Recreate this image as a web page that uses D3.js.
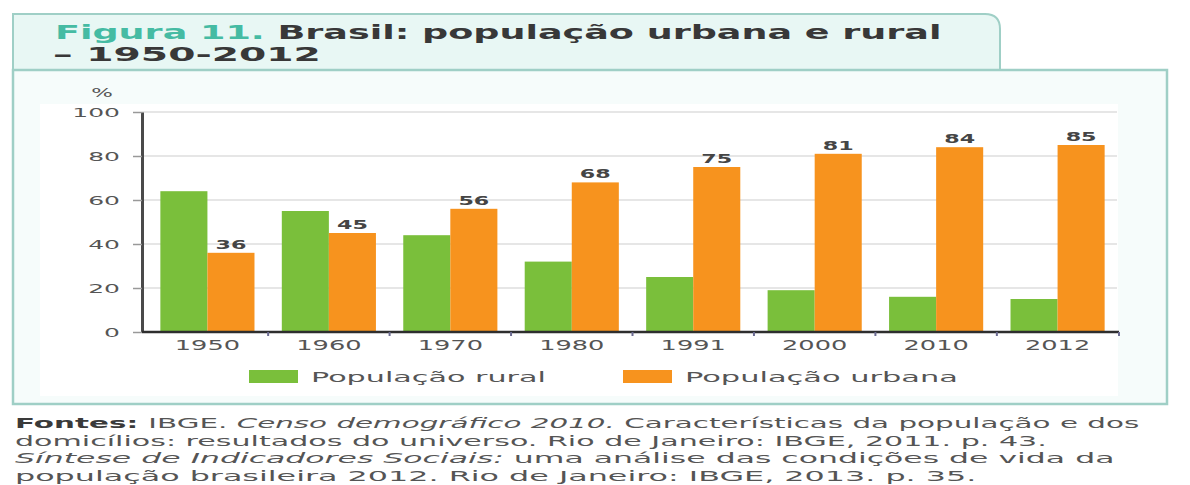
<!DOCTYPE html>
<html>
<head>
<meta charset="utf-8">
<script src="https://cdnjs.cloudflare.com/ajax/libs/d3/7.8.5/d3.min.js"></script>
<style>
  body { margin: 0; background: #fff; }
  svg { display: block; }
  text { font-family: "DejaVu Sans", sans-serif; }
</style>
</head>
<body>
<div id="chart"></div>
<script>
// data
var years = ["1950", "1960", "1970", "1980", "1991", "2000", "2010", "2012"];
var rural = [64, 55, 44, 32, 25, 19, 16, 15];
var urbana = [36, 45, 56, 68, 75, 81, 84, 85];
var yTicks = [0, 20, 40, 60, 80, 100];
var seriesNames = ["População rural", "População urbana"];
var titleLabel = "Figura 11.";
var titleText = " Brasil: população urbana e rural";
var titleLine2 = "– 1950-2012";
var sourceLines = [
  [["Fontes: ", "b"], ["IBGE. ", ""], ["Censo demográfico 2010.", "i"], [" Características da população e dos", ""]],
  [["domicílios: resultados do universo. Rio de Janeiro: IBGE, 2011. p. 43.", ""]],
  [["Síntese de Indicadores Sociais:", "i"], [" uma análise das condições de vida da", ""]],
  [["população brasileira 2012. Rio de Janeiro: IBGE, 2013. p. 35.", ""]]
];

var W = 1190, H = 485;
var colors = ["#7abf3b", "#f7931e"];
var frame = "#9fcfc6";

var svg = d3.select("#chart").append("svg")
  .attr("width", W)
  .attr("height", H);

// stretch a text horizontally so it spans the given width
function fit(sel, x, y, w) {
  var len = sel.node().getComputedTextLength();
  sel.attr("transform", "translate(" + x + "," + y + ") scale(" + (w / len) + ",1)");
}

// title tab
svg.append("path")
  .attr("d", "M13,70 L13,14 L985,14 Q1000,14 1000,29 L1000,70")
  .style("fill", "#e8f7f4")
  .style("stroke", frame)
  .style("stroke-width", 2);

// chart panel
svg.append("rect")
  .attr("x", 13).attr("y", 70)
  .attr("width", 1154).attr("height", 334)
  .style("fill", "#f6fcfb")
  .style("stroke", frame)
  .style("stroke-width", 2.5);

svg.append("rect")
  .attr("x", 40).attr("y", 104)
  .attr("width", 1078).attr("height", 292)
  .style("fill", "#fff");

var t1 = svg.append("text")
  .style("font-size", "19px")
  .style("font-weight", "bold");
t1.append("tspan").text(titleLabel).style("fill", "#45bba3");
t1.append("tspan").text(titleText).style("fill", "#383838");
fit(t1, 55, 39, 887);

var t2 = svg.append("text")
  .style("font-size", "19px")
  .style("font-weight", "bold")
  .style("fill", "#383838")
  .text(titleLine2);
fit(t2, 53, 61, 268);

// scales
var x0 = d3.scaleBand()
  .domain(years)
  .range([147, 1118])
  .paddingInner(0.225)
  .paddingOuter(0.11);

var x1 = d3.scaleBand()
  .domain([0, 1])
  .range([0, x0.bandwidth()]);

var y = d3.scaleLinear()
  .domain([0, 100])
  .range([332, 112]);

// grid
svg.selectAll(".grid")
  .data(yTicks.filter(function(d) { return d > 0; }))
  .enter()
  .append("line")
  .attr("x1", 142)
  .attr("x2", 1117)
  .attr("y1", function(d) { return y(d); })
  .attr("y2", function(d) { return y(d); })
  .style("stroke", "#dedede")
  .style("stroke-width", 1.5);

// bars
var rows = years.map(function(yr, i) { return { year: yr, values: [rural[i], urbana[i]] }; });

var groups = svg.selectAll("g.group")
  .data(rows)
  .enter()
  .append("g")
  .classed("group", true)
  .attr("transform", function(d) { return "translate(" + x0(d.year) + ",0)"; });

groups.selectAll("rect")
  .data(function(d) { return d.values; })
  .enter()
  .append("rect")
  .attr("x", function(d, i) { return x1(i); })
  .attr("y", function(d) { return y(d); })
  .attr("width", x1.bandwidth())
  .attr("height", function(d) { return y(0) - y(d); })
  .style("fill", function(d, i) { return colors[i]; });

// value labels on urban bars
groups.append("text")
  .text(function(d) { return d.values[1]; })
  .style("font-size", "12px")
  .style("font-weight", "bold")
  .style("fill", "#454545")
  .attr("text-anchor", "middle")
  .attr("transform", function(d) {
    return "translate(" + (x1(1) + x1.bandwidth() / 2) + "," + (y(d.values[1]) - 4) + ") scale(1.85,1)";
  });

// y axis
var yAxis = svg.append("g")
  .attr("transform", "translate(142,0)")
  .call(d3.axisLeft(y).tickValues(yTicks).tickSize(9).tickSizeOuter(0).tickPadding(13));

yAxis.select(".domain")
  .style("stroke", "#4a4a4a")
  .style("stroke-width", 3);
yAxis.selectAll(".tick line").style("stroke", "#999").style("stroke-width", 1.5);
yAxis.selectAll(".tick text")
  .style("font-family", "DejaVu Sans")
  .style("font-size", "12.5px")
  .style("fill", "#555")
  .attr("x", -22 / 2)
  .attr("transform", "scale(2,1)");

svg.append("text")
  .text("%")
  .attr("text-anchor", "middle")
  .style("font-size", "12px")
  .style("fill", "#555")
  .attr("transform", "translate(102,97) scale(1.9,1)");

// x axis
var xAxis = svg.append("g")
  .attr("transform", "translate(0,332)")
  .call(d3.axisBottom(x0).tickSize(0).tickPadding(8));

xAxis.select(".domain").remove();
xAxis.selectAll(".tick text")
  .style("font-family", "DejaVu Sans")
  .style("font-size", "13.5px")
  .style("fill", "#555")
  .attr("transform", "scale(1.9,1)");

svg.append("line")
  .attr("x1", 142).attr("x2", 1119)
  .attr("y1", y(0)).attr("y2", y(0))
  .style("stroke", "#2e2e2e")
  .style("stroke-width", 2.5);

// small marks between the year groups
svg.selectAll(".sep")
  .data(years.slice(1).concat(["end"]))
  .enter()
  .append("line")
  .attr("x1", function(d, i) { return d === "end" ? 1119 : x0(d) - x0.step() * x0.paddingInner() / 2; })
  .attr("x2", function(d, i) { return d === "end" ? 1119 : x0(d) - x0.step() * x0.paddingInner() / 2; })
  .attr("y1", y(0))
  .attr("y2", y(0) + 4)
  .style("stroke", "#6a6a90")
  .style("stroke-width", 2);

// legend
var legendX = [249, 623];
var legendW = [235, 273];
var legend = svg.selectAll("g.legend")
  .data(seriesNames)
  .enter()
  .append("g")
  .classed("legend", true);

legend.append("rect")
  .attr("x", function(d, i) { return legendX[i]; })
  .attr("y", 370)
  .attr("width", 49)
  .attr("height", 13)
  .style("fill", function(d, i) { return colors[i]; });

legend.append("text")
  .text(function(d) { return d; })
  .style("font-size", "14px")
  .style("fill", "#555")
  .each(function(d, i) { fit(d3.select(this), legendX[i] + 62, 382, legendW[i]); });

// sources
var srcW = [1125, 1032, 1100, 962];
sourceLines.forEach(function(parts, k) {
  var t = svg.append("text")
    .style("font-size", "14px")
    .style("fill", "#555");
  parts.forEach(function(p) {
    var s = t.append("tspan").text(p[0]);
    if (p[1] === "b") s.style("font-weight", "bold").style("fill", "#3a3a3a");
    if (p[1] === "i") s.style("font-style", "italic");
  });
  fit(t, 15, 428 + k * 17.7, srcW[k]);
});
</script>
</body>
</html>
